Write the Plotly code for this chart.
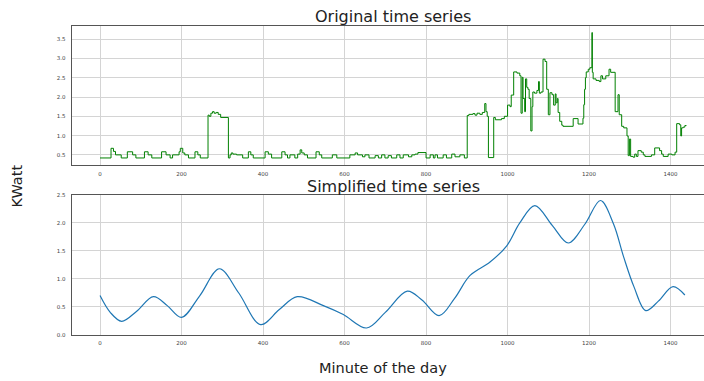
import plotly.graph_objects as go

# ---------------- data ----------------
# Original series: change points (minute, kW), held until next change point
orig_minutes = [
    0, 27, 33, 38, 52,
    67, 80, 88,
    109, 118, 127,
    151, 162, 172,
    178, 194, 197, 203, 208, 217,
    233, 240, 246,
    265, 268, 272, 276, 280, 285, 290, 296, 315, 319, 322, 326, 335, 350,
    364, 370, 376,
    405, 413, 421, 446, 454, 460, 466, 478, 485, 491, 495, 501, 509,
    530, 538, 544, 570, 581, 613, 626, 632, 644, 650, 660, 675, 683,
    691, 699, 707, 715, 728, 736, 744, 757, 765, 773, 780, 800,
    810, 818, 822, 828, 842, 850, 863, 871, 883, 894,
    901, 905, 915, 920, 925, 932, 938, 944, 947, 950, 953, 966, 970, 985, 992,
    1000, 1006, 1009, 1015, 1023, 1030, 1033, 1036, 1038, 1042, 1044, 1047,
    1050, 1053, 1057, 1060, 1062, 1066, 1072, 1076, 1078, 1082, 1087, 1092,
    1096, 1100, 1104, 1109, 1113, 1117, 1119, 1122, 1124, 1128, 1133, 1136,
    1161, 1173, 1185, 1187, 1189, 1191, 1193, 1198, 1202, 1207, 1208, 1210,
    1217, 1225, 1229, 1233, 1241, 1249, 1253, 1264, 1271, 1274, 1280, 1285,
    1293, 1296, 1299, 1302, 1308, 1312, 1316, 1320, 1328, 1333, 1337, 1353,
    1361, 1373, 1378, 1382, 1394, 1403, 1411, 1415, 1422, 1425, 1427, 1431,
    1435, 1439,
]
orig_kw = [
    0.42, 0.67, 0.59, 0.50, 0.42,
    0.58, 0.50, 0.42,
    0.58, 0.50, 0.42,
    0.58, 0.50, 0.42,
    0.50, 0.58, 0.67, 0.55, 0.50, 0.42,
    0.58, 0.50, 0.42,
    1.53, 1.50, 1.58, 1.62, 1.58, 1.60, 1.55, 1.47, 0.42, 0.50, 0.55, 0.52, 0.50, 0.42,
    0.58, 0.50, 0.42,
    0.58, 0.52, 0.42, 0.58, 0.50, 0.42, 0.50, 0.42, 0.52, 0.63, 0.55, 0.50, 0.42,
    0.58, 0.50, 0.42, 0.50, 0.42, 0.50, 0.55, 0.50, 0.45, 0.50, 0.42, 0.48, 0.42,
    0.50, 0.42, 0.48, 0.42, 0.50, 0.42, 0.50, 0.45, 0.50, 0.52, 0.56, 0.42,
    0.50, 0.42, 0.50, 0.42, 0.50, 0.42, 0.52, 0.45, 0.50, 0.42,
    1.52, 1.55, 1.57, 1.53, 1.58, 1.55, 1.60, 1.83, 1.62, 1.50, 0.43, 1.47, 1.41, 1.44, 1.50,
    1.79, 1.75, 2.05, 2.65, 2.62, 2.55, 1.58, 2.51, 1.96, 1.62, 2.47, 2.25,
    2.20, 1.96, 1.12, 1.75, 2.13, 2.10, 2.17, 2.40, 2.10, 2.13, 2.98, 2.92,
    2.20, 1.54, 2.11, 2.06, 1.79, 2.08, 1.85, 1.96, 1.60, 1.37, 1.27, 1.24,
    1.44, 1.30, 1.45, 1.80, 2.20, 2.50, 2.65, 2.72, 2.76, 3.67, 2.64, 2.47,
    2.43, 2.40, 2.55, 2.47, 2.55, 2.72, 2.64, 1.62, 2.06, 1.54, 1.24, 1.20,
    0.99, 0.48, 0.91, 0.46, 0.44, 0.52, 0.46, 0.61, 0.57, 0.50, 0.46, 0.50,
    0.68, 0.61, 0.52, 0.46, 0.52, 0.50, 0.57, 1.31, 1.28, 0.99, 1.20, 1.22,
    1.26, 1.26,
]

# Simplified (smoothed) series
simpl_minutes = [0, 25, 53, 90, 131, 165, 200, 245, 293, 340, 394, 440, 484,
                 548, 597, 654, 700, 754, 790, 832, 870, 908, 957, 998, 1030,
                 1067, 1110, 1149, 1190, 1228, 1260, 1284, 1310, 1339, 1370,
                 1406, 1435]
simpl_kw = [0.70, 0.40, 0.24, 0.42, 0.68, 0.52, 0.31, 0.70, 1.18, 0.75, 0.18,
            0.45, 0.68, 0.52, 0.36, 0.12, 0.40, 0.78, 0.62, 0.34, 0.65, 1.06,
            1.30, 1.59, 2.00, 2.31, 1.95, 1.64, 1.98, 2.40, 1.98, 1.41, 0.86,
            0.43, 0.60, 0.86, 0.71]

x_ticks = [0, 200, 400, 600, 800, 1000, 1200, 1400]
y_ticks_top = [0.5, 1.0, 1.5, 2.0, 2.5, 3.0, 3.5]
y_ticks_bottom = [0.0, 0.5, 1.0, 1.5, 2.0, 2.5]

titles = ["Original time series", "Simplified time series"]
x_label = "Minute of the day"
y_label = "KWatt"

# ---------------- figure ----------------
W, H = 704, 381
def py(p):
    return 1 - p / H

fig = go.Figure()
fig.add_trace(go.Scatter(x=orig_minutes, y=orig_kw, mode="lines",
                         line=dict(color="green", width=1, shape="hv"),
                         xaxis="x", yaxis="y", hoverinfo="skip"))
fig.add_trace(go.Scatter(x=simpl_minutes, y=simpl_kw, mode="lines",
                         line=dict(color="#1f77b4", width=1.2, shape="spline", smoothing=1.0),
                         xaxis="x2", yaxis="y2", hoverinfo="skip"))

grid = "#d4d4d4"
spine = "#555555"
tickfont = dict(family="DejaVu Sans", size=5.5, color="#444444")
common_x = dict(range=[-70, 1482], tickvals=x_ticks, ticktext=[str(v) for v in x_ticks],
                showgrid=True, gridcolor=grid, gridwidth=1, zeroline=False,
                showline=True, linecolor=spine, linewidth=1, mirror=True,
                ticks="", tickfont=tickfont, ticklabelstandoff=3)
common_y = dict(showgrid=True, gridcolor=grid, gridwidth=1, zeroline=False,
                showline=True, linecolor=spine, linewidth=1, mirror=False,
                ticks="", tickfont=tickfont, ticklabelstandoff=4)

x_dom = [71.5 / W, 1.0]
fig.update_layout(
    width=W, height=H,
    margin=dict(l=0, r=0, t=0, b=0),
    paper_bgcolor="white", plot_bgcolor="white",
    showlegend=False,
    font=dict(family="DejaVu Sans", color="#222222"),
    xaxis=dict(domain=x_dom, anchor="y", **common_x),
    yaxis=dict(domain=[py(165), py(23)], anchor="x", range=[0.227, 3.85],
               tickvals=y_ticks_top, ticktext=[f"{v:.1f}" for v in y_ticks_top], **common_y),
    xaxis2=dict(domain=x_dom, anchor="y2", **common_x),
    yaxis2=dict(domain=[py(337), py(195)], anchor="x2", range=[0, 2.5],
                tickvals=y_ticks_bottom, ticktext=[f"{v:.1f}" for v in y_ticks_bottom], **common_y),
    annotations=[
        dict(text=titles[0], x=393 / W, y=py(13.5), xref="paper", yref="paper",
             xanchor="center", yanchor="middle", showarrow=False,
             font=dict(size=16, color="#222222", family="DejaVu Sans")),
        dict(text=titles[1], x=393 / W, y=py(186), xref="paper", yref="paper",
             xanchor="center", yanchor="middle", showarrow=False,
             font=dict(size=16, color="#222222", family="DejaVu Sans")),
        dict(text=x_label, x=382.5 / W, y=py(371), xref="paper", yref="paper",
             xanchor="center", yanchor="middle", showarrow=False,
             font=dict(size=14.5, color="#222222", family="DejaVu Sans")),
        dict(text=y_label, x=17.5 / W, y=py(186), xref="paper", yref="paper",
             xanchor="center", yanchor="middle", showarrow=False, textangle=-90,
             font=dict(size=14.5, color="#222222", family="DejaVu Sans")),
    ],
)

fig.write_html("out.html")
